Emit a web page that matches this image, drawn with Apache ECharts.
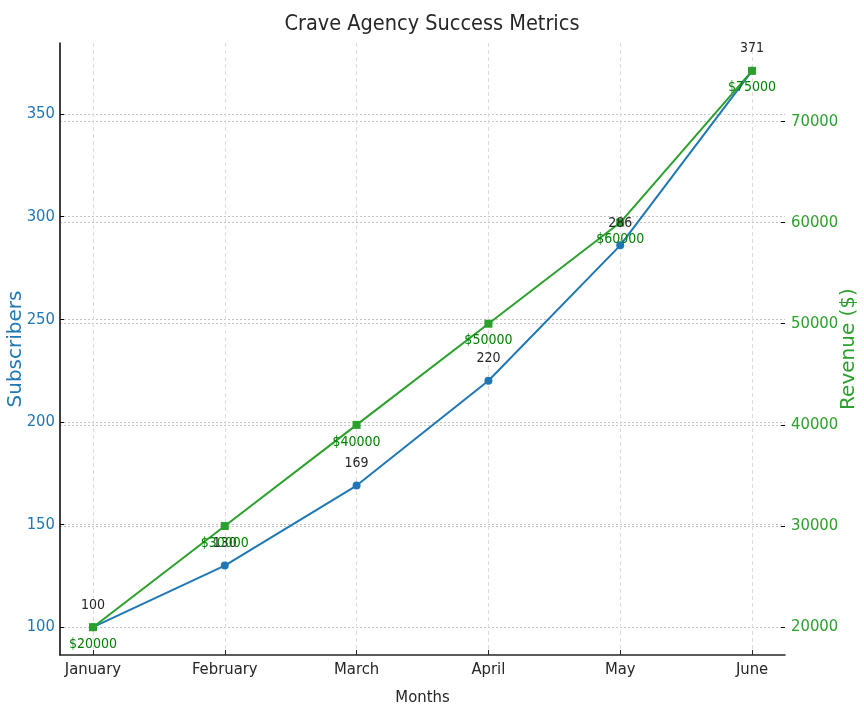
<!DOCTYPE html>
<html><head><meta charset="utf-8">
<script src="https://cdn.jsdelivr.net/npm/echarts@6/dist/echarts.min.js"></script>
<style>html,body{margin:0;padding:0;background:#fff}#c{width:864px;height:720px}</style>
</head><body><div id="c"></div>
<script>
const months = ['January','February','March','April','May','June'];
const subscribers = [100,130,169,220,286,371];
const revenue = [20000,30000,40000,50000,60000,75000];
const subTicks = [100,150,200,250,300,350];
const revTicks = [20000,30000,40000,50000,60000,70000];
const monthIdx = [0,1,2,3,4,5];

const COND = '"DejaVu Sans Condensed"';
const BLUE = '#1f77b4', GREEN = '#2ca02c';
const chart = echarts.init(document.getElementById('c'), null, {renderer:'canvas'});
chart.setOption({
  animation:false,
  backgroundColor:'#fff',
  title:{text:'Crave Agency Success Metrics', left:'center', top:8,
    textStyle:{fontFamily:COND, fontSize:21.5, fontWeight:'normal', color:'#262626'}},
  grid:{left:60, right:79, top:43, bottom:65, containLabel:false, outerBoundsMode:'none'},
  xAxis:{type:'value', min:-0.25, max:5.25,
    name:'Months', nameLocation:'middle', nameGap:34, nameMoveOverlap:false,
    nameTextStyle:{fontFamily:COND, fontSize:16.5, color:'#262626'},
    axisLine:{show:true, onZero:false, lineStyle:{color:'#262626', width:1.5}},
    axisTick:{show:true, inside:true, length:5, customValues:monthIdx, lineStyle:{color:'#262626'}},
    axisLabel:{customValues:monthIdx, formatter:v=>months[Math.round(v)]||'', margin:6,
      fontFamily:COND, fontSize:16.5, color:'#262626'},
    splitLine:{show:true, lineStyle:{color:'#dddddd', type:[4,3], width:1}}
  },
  yAxis:[
    {type:'value', min:86.45, max:384.55, position:'left',
      name:'Subscribers', nameLocation:'middle', nameGap:34, nameMoveOverlap:false,
      nameTextStyle:{fontFamily:'"DejaVu Sans"', fontSize:20, color:BLUE},
      axisLine:{show:true, onZero:false, lineStyle:{color:'#000', width:1.5}},
      axisTick:{show:true, inside:true, length:4, customValues:subTicks, lineStyle:{color:'#000'}},
      axisLabel:{customValues:subTicks, margin:5, fontFamily:COND, fontSize:16.5, color:BLUE},
      splitLine:{show:true, lineStyle:{color:'#c4c4c4', type:[2,2], width:1}}
    },
    {type:'value', min:17250, max:77750, position:'right',
      name:'Revenue ($)', nameLocation:'middle', nameGap:54, nameMoveOverlap:false,
      nameTextStyle:{fontFamily:'"DejaVu Sans"', fontSize:20, color:GREEN},
      axisLine:{show:false, onZero:false},
      axisTick:{show:true, inside:true, length:4, customValues:revTicks, lineStyle:{color:'#000'}},
      axisLabel:{customValues:revTicks, margin:6, formatter:v=>String(v),
        fontFamily:COND, fontSize:16.5, color:GREEN},
      splitLine:{show:true, lineStyle:{color:'#c4c4c4', type:[2,2], width:1}}
    }
  ],
  series:[
    {type:'line', name:'Subscribers', yAxisIndex:0,
      data:monthIdx.map((i)=>[i, subscribers[i]]),
      symbol:'circle', symbolSize:8, itemStyle:{color:BLUE},
      lineStyle:{color:BLUE, width:2},
      label:{show:true, position:'top', distance:11, fontFamily:COND, fontSize:14, color:'#262626',
        formatter:p=>String(p.value[1])}
    },
    {type:'line', name:'Revenue', yAxisIndex:1,
      data:monthIdx.map((i)=>[i, revenue[i]]),
      symbol:'rect', symbolSize:8, itemStyle:{color:GREEN},
      lineStyle:{color:GREEN, width:2},
      label:{show:true, position:'bottom', distance:6, fontFamily:COND, fontSize:14, color:'#008000',
        formatter:p=>'$'+p.value[1]}
    }
  ]
});
</script></body></html>
